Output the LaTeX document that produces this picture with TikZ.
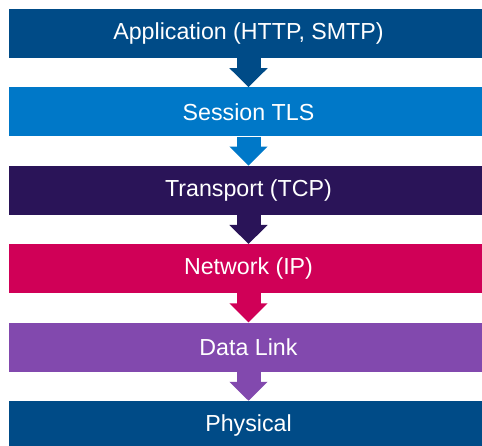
\documentclass[tikz,border=0pt]{standalone}
\usepackage{fontspec}
\setmainfont{Liberation Sans}
\usetikzlibrary{positioning}
\usetikzlibrary{arrows.meta}
\usepackage{xcolor}
\definecolor{appcol}{RGB}{0,75,135}
\definecolor{sescol}{RGB}{0,120,200}
\definecolor{trncol}{RGB}{42,20,88}
\definecolor{netcol}{RGB}{208,0,87}
\definecolor{lnkcol}{RGB}{130,73,174}
\colorlet{phycol}{appcol}
\tikzstyle{layer}=[rectangle,minimum width=479pt,minimum height=49pt,inner sep=0pt,text=white,font=\fontsize{23.2}{27}\selectfont]
\tikzstyle{down}=[line width=24pt,-{Triangle[width=37pt,length=19pt]}]

\begin{document}
\begin{tikzpicture}[x=1pt,y=1pt]
  \def\gap{29pt}
  \useasboundingbox (0,0) rectangle (482,-446);

  % layers
  \node[layer,fill=appcol] (app) at (248.5,-33.5) {Application (HTTP, SMTP)};
  \node[layer,fill=sescol,below=\gap of app] (ses) {Session TLS};
  \node[layer,fill=trncol,below=\gap of ses] (trn) {Transport (TCP)};
  \node[layer,fill=netcol,below=\gap of trn] (net) {Network (IP)};
  \node[layer,fill=lnkcol,below=\gap of net] (lnk) {Data Link};
  \node[layer,fill=phycol,below=\gap of lnk] (phy) {Physical};

  % arrows
  \draw[down,appcol] (app) -- (ses);
  \draw[down,sescol] (ses) -- (trn);
  \draw[down,trncol] (trn) -- (net);
  \draw[down,netcol] (net) -- (lnk);
  \draw[down,lnkcol] (lnk) -- (phy);

\end{tikzpicture}
\end{document}
